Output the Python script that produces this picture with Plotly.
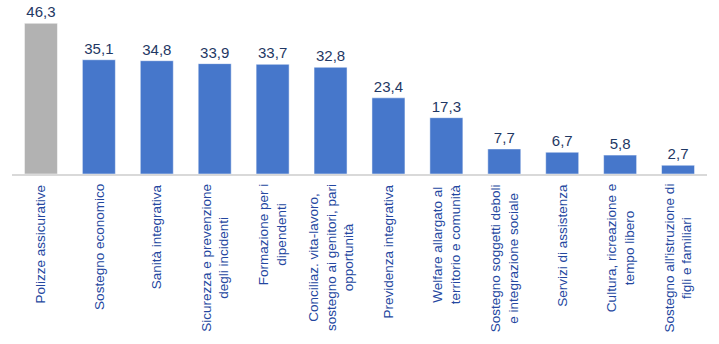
import plotly.graph_objects as go

categories = [
    "Polizze assicurative",
    "Sostegno economico",
    "Sanità integrativa",
    "Sicurezza e prevenzione<br>degli incidenti",
    "Formazione per i<br>dipendenti",
    "Conciliaz. vita-lavoro,<br>sostegno ai genitori, pari<br>opportunità",
    "Previdenza integrativa",
    "Welfare allargato al<br>territorio e comunità",
    "Sostegno soggetti deboli<br>e integrazione sociale",
    "Servizi di assistenza",
    "Cultura, ricreazione e<br>tempo libero",
    "Sostegno all'istruzione di<br>figli e familiari",
]
values = [46.3, 35.1, 34.8, 33.9, 33.7, 32.8, 23.4, 17.3, 7.7, 6.7, 5.8, 2.7]
value_labels = [f"{v:.1f}".replace(".", ",") for v in values]

bar_colors = ["#B2B2B2"] + ["#4677CB"] * (len(values) - 1)
font_family = "Liberation Sans, Arial, sans-serif"

fig = go.Figure(
    go.Bar(
        x=categories,
        y=values,
        marker=dict(color=bar_colors, line=dict(color="rgba(255,255,255,0.5)", width=1)),
        text=value_labels,
        textposition="outside",
        textfont=dict(family=font_family, size=15, color="#1F3864"),
        cliponaxis=False,
        hoverinfo="skip",
    )
)

# Category labels rotated, centred lines, hanging below the axis
for cat in categories:
    fig.add_annotation(
        x=cat,
        y=0,
        xref="x",
        yref="paper",
        text=cat,
        textangle=-90,
        showarrow=False,
        xanchor="center",
        yanchor="top",
        yshift=-8,
        align="center",
        font=dict(family=font_family, size=13.5, color="#2447A0"),
    )

fig.update_layout(
    width=719,
    height=344,
    margin=dict(l=12, r=12, t=0, b=170),
    paper_bgcolor="white",
    plot_bgcolor="white",
    bargap=0.43,
    showlegend=False,
    xaxis=dict(
        showticklabels=False,
        showline=True,
        linecolor="#D9D9D9",
        linewidth=1.5,
        ticks="",
        showgrid=False,
        zeroline=False,
    ),
    yaxis=dict(
        range=[0, 53.45],
        visible=False,
        showgrid=False,
        zeroline=False,
    ),
)

fig.write_html("out.html")
